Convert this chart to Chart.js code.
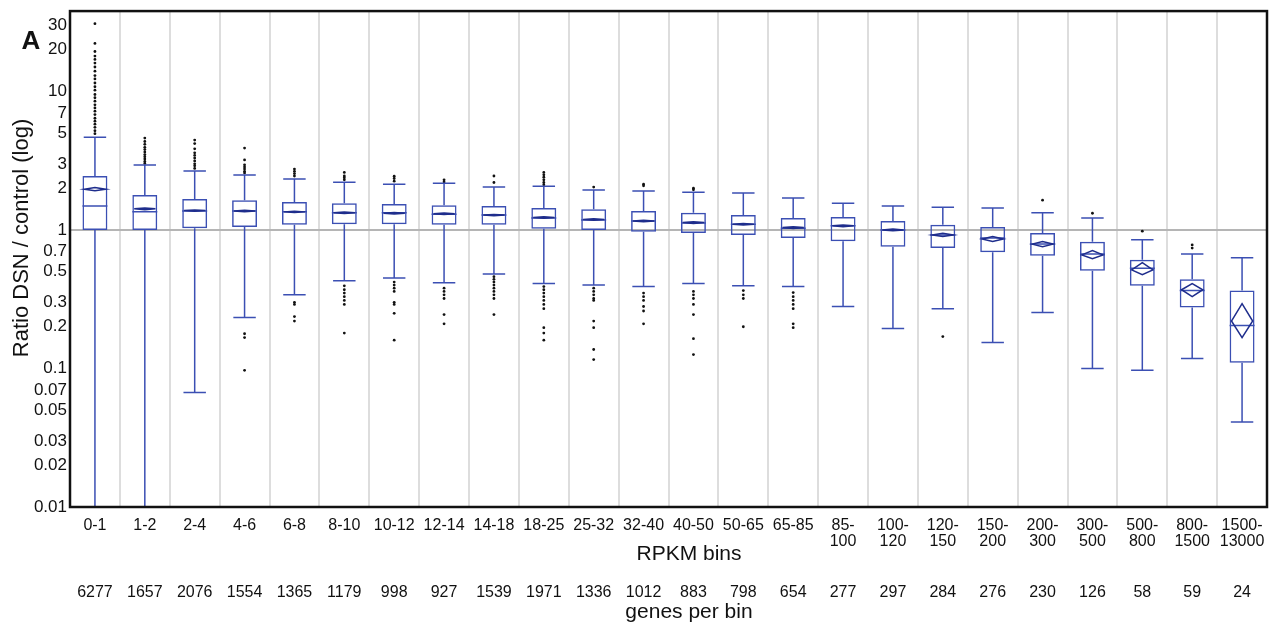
<!DOCTYPE html>
<html lang="en">
  <head>
    <meta charset="UTF-8" />
    <title>DSN / control ratio by RPKM bin</title>
    <script src="https://cdn.jsdelivr.net/npm/chart.js"></script>
    <style>
      html, body { margin: 0; padding: 0; background: #fff; }
      #wrap { width: 1278px; height: 630px; position: relative; }
    </style>
  </head>
  <body>
    <div id="wrap"><canvas id="boxChart" width="1278" height="630"></canvas></div>

  <script>
    // categories and counts
    var bins = ['0-1', '1-2', '2-4', '4-6', '6-8', '8-10', '10-12', '12-14', '14-18', '18-25', '25-32', '32-40',
      '40-50', '50-65', '65-85', ['85-', '100'], ['100-', '120'], ['120-', '150'], ['150-', '200'],
      ['200-', '300'], ['300-', '500'], ['500-', '800'], ['800-', '1500'], ['1500-', '13000']];
    var genesPerBin = ['6277', '1657', '2076', '1554', '1365', '1179', '998', '927', '1539', '1971', '1336', '1012',
      '883', '798', '654', '277', '297', '284', '276', '230', '126', '58', '59', '24'];

    // box statistics
    var whiskerLo = [0.005, 0.005, 0.067, 0.233, 0.34, 0.43, 0.45, 0.415, 0.48, 0.41, 0.40, 0.39,
      0.41, 0.395, 0.39, 0.28, 0.194, 0.27, 0.154, 0.253, 0.10, 0.097, 0.118, 0.041];
    var q1 = [1.0, 1.0, 1.03, 1.05, 1.09, 1.10, 1.10, 1.09, 1.09, 1.02, 1.0, 0.97,
      0.95, 0.92, 0.875, 0.83, 0.755, 0.74, 0.69, 0.65, 0.507, 0.395, 0.275, 0.11];
    var median = [1.49, 1.35, 1.37, 1.37, 1.35, 1.33, 1.33, 1.30, 1.28, 1.22, 1.18, 1.16,
      1.12, 1.10, 1.03, 1.07, 1.0, 0.92, 0.875, 0.79, 0.67, 0.53, 0.365, 0.204];
    var q3 = [2.45, 1.79, 1.67, 1.64, 1.59, 1.56, 1.54, 1.51, 1.49, 1.44, 1.41, 1.37,
      1.33, 1.28, 1.22, 1.24, 1.16, 1.09, 1.05, 0.95, 0.82, 0.61, 0.44, 0.365];
    var whiskerHi = [4.67, 2.94, 2.66, 2.49, 2.33, 2.21, 2.14, 2.17, 2.04, 2.07, 1.94, 1.91,
      1.87, 1.85, 1.70, 1.56, 1.49, 1.46, 1.44, 1.33, 1.22, 0.85, 0.67, 0.63];

    // means diamonds: mean and its confidence range
    var meanVal = [1.97, 1.42, 1.38, 1.37, 1.35, 1.33, 1.32, 1.31, 1.28, 1.23, 1.19, 1.16,
      1.13, 1.10, 1.04, 1.07, 1.0, 0.92, 0.86, 0.79, 0.66, 0.515, 0.37, 0.22];
    var meanLo = [1.92, 1.40, 1.365, 1.355, 1.335, 1.315, 1.305, 1.295, 1.265, 1.215, 1.175, 1.145,
      1.115, 1.085, 1.025, 1.055, 0.985, 0.895, 0.825, 0.755, 0.62, 0.476, 0.33, 0.167];
    var meanHi = [2.02, 1.44, 1.395, 1.385, 1.365, 1.345, 1.335, 1.325, 1.295, 1.245, 1.205, 1.175,
      1.145, 1.115, 1.055, 1.085, 1.015, 0.945, 0.895, 0.825, 0.71, 0.58, 0.41, 0.294];

    // outlying genes per bin
    var outliers = [
      [30.8, 22.2, 19.4, 18, 17, 16, 15, 14, 13, 12.3, 11.5, 10.8, 10.2, 9.5, 9, 8.5, 8, 7.6, 7.2, 6.8, 6.4, 6.1, 5.8, 5.5, 5.2, 4.95],
      [4.6, 4.35, 4.15, 3.95, 3.8, 3.65, 3.5, 3.38, 3.25, 3.12, 3.02],
      [4.45, 4.2, 3.85, 3.6, 3.45, 3.3, 3.15, 3.0, 2.9, 2.78],
      [3.9, 3.2, 2.95, 2.85, 2.75, 2.65, 2.58, 0.178, 0.167, 0.097],
      [2.75, 2.65, 2.55, 2.45, 0.30, 0.29, 0.237, 0.22],
      [2.6, 2.45, 2.38, 2.3, 0.395, 0.37, 0.35, 0.33, 0.31, 0.29, 0.18],
      [2.44, 2.35, 2.25, 0.42, 0.40, 0.38, 0.36, 0.30, 0.29, 0.25, 0.16],
      [2.3, 2.22, 0.38, 0.36, 0.34, 0.32, 0.245, 0.21],
      [2.45, 2.2, 0.46, 0.44, 0.42, 0.40, 0.38, 0.36, 0.34, 0.32, 0.245],
      [2.6, 2.5, 2.4, 2.3, 2.2, 2.12, 0.39, 0.37, 0.35, 0.33, 0.31, 0.29, 0.27, 0.197, 0.18, 0.16],
      [2.04, 0.38, 0.36, 0.34, 0.32, 0.31, 0.22, 0.197, 0.137, 0.116],
      [2.14, 2.08, 0.35, 0.33, 0.31, 0.28, 0.26, 0.21],
      [2.0, 1.95, 0.36, 0.34, 0.32, 0.29, 0.245, 0.164, 0.126],
      [0.365, 0.34, 0.32, 0.2],
      [0.353, 0.33, 0.31, 0.29, 0.27, 0.21, 0.197],
      [], [], [0.17], [], [1.64], [1.32], [0.98], [0.78, 0.74], []
    ];

    var yTicks = [0.01, 0.02, 0.03, 0.05, 0.07, 0.1, 0.2, 0.3, 0.5, 0.7, 1, 2, 3, 5, 7, 10, 20, 30];

    var boxBlue = '#3b4fb3';
    var diamondBlue = '#1e2d8c';
    var fontFam = '"Liberation Sans", Arial, Helvetica, sans-serif';

    // x is the category label itself so the category scale finds the right bin
    var outlierPoints = [];
    outliers.forEach(function (list, i) {
      list.forEach(function (v) {
        outlierPoints.push({ x: bins[i], y: v });
      });
    });

    // whiskers, medians, means diamonds, frame and titles
    var boxExtras = {
      id: 'boxExtras',
      afterDatasetsDraw: function (chart) {
        var ctx = chart.ctx;
        var xs = chart.scales.x, ys = chart.scales.y;
        var area = chart.chartArea;
        var meta = chart.getDatasetMeta(0);
        ctx.save();
        ctx.beginPath();
        ctx.rect(area.left, area.top, area.right - area.left, area.bottom - area.top);
        ctx.clip();
        for (var i = 0; i < bins.length; i++) {
          var cx = xs.getPixelForValue(i);
          var w = meta.data[i].width;
          var cap = w * 0.9;
          var yLo = ys.getPixelForValue(whiskerLo[i]);
          var yHi = ys.getPixelForValue(whiskerHi[i]);
          var yQ1 = ys.getPixelForValue(q1[i]);
          var yQ3 = ys.getPixelForValue(q3[i]);
          var yMed = ys.getPixelForValue(median[i]);

          ctx.strokeStyle = boxBlue;
          ctx.lineWidth = 1.5;
          ctx.beginPath();
          ctx.moveTo(cx, yQ3); ctx.lineTo(cx, yHi);
          ctx.moveTo(cx - cap / 2, yHi); ctx.lineTo(cx + cap / 2, yHi);
          ctx.moveTo(cx, yQ1); ctx.lineTo(cx, yLo);
          ctx.moveTo(cx - cap / 2, yLo); ctx.lineTo(cx + cap / 2, yLo);
          ctx.moveTo(cx - w / 2, yMed); ctx.lineTo(cx + w / 2, yMed);
          ctx.stroke();

          // means diamond
          var yM = ys.getPixelForValue(meanVal[i]);
          var yMl = ys.getPixelForValue(meanLo[i]);
          var yMh = ys.getPixelForValue(meanHi[i]);
          var dw = w * 0.85;
          ctx.strokeStyle = diamondBlue;
          ctx.lineWidth = 1.5;
          ctx.beginPath();
          ctx.moveTo(cx - dw / 2, yM);
          ctx.lineTo(cx, yMh);
          ctx.lineTo(cx + dw / 2, yM);
          ctx.lineTo(cx, yMl);
          ctx.closePath();
          ctx.stroke();
        }
        ctx.restore();
      },
      afterDraw: function (chart) {
        var ctx = chart.ctx;
        var area = chart.chartArea;
        ctx.save();
        ctx.strokeStyle = '#111';
        ctx.lineWidth = 2.5;
        ctx.strokeRect(area.left, area.top, area.right - area.left, area.bottom - area.top);

        ctx.fillStyle = '#111';
        ctx.textAlign = 'center';
        ctx.textBaseline = 'middle';
        ctx.font = 'bold 26px ' + fontFam;
        ctx.fillText('A', 31, 42);

        ctx.font = '21px ' + fontFam;
        ctx.fillText('RPKM bins', 689, 554);
        ctx.fillText('genes per bin', 689, 612);

        ctx.translate(22, 238);
        ctx.rotate(-Math.PI / 2);
        ctx.font = '22px ' + fontFam;
        ctx.fillText('Ratio DSN / control (log)', 0, 0);
        ctx.restore();
      }
    };

    var ctx = document.getElementById('boxChart').getContext('2d');
    var boxChart = new Chart(ctx, {
      type: 'bar',
      data: {
        labels: bins,
        datasets: [{
          type: 'bar',
          data: q1.map(function (v, i) { return [v, q3[i]]; }),
          backgroundColor: 'rgba(0,0,0,0)',
          borderColor: boxBlue,
          borderWidth: 1.5,
          borderSkipped: false,
          barPercentage: 0.5,
          categoryPercentage: 1.0,
          order: 2
        }, {
          type: 'scatter',
          data: outlierPoints,
          pointRadius: 1.4,
          pointBackgroundColor: '#111',
          pointBorderWidth: 0,
          showLine: false,
          order: 1
        }]
      },
      options: {
        responsive: false,
        animation: false,
        layout: { padding: { top: 0, right: 11, left: 0, bottom: 0 } },
        plugins: { legend: { display: false }, tooltip: { enabled: false } },
        scales: {
          x: {
            type: 'category',
            position: 'bottom',
            offset: true,
            grid: { display: true, offset: true, color: '#dddddd', lineWidth: 2, drawTicks: false },
            border: { display: false },
            ticks: {
              autoSkip: false, maxRotation: 0, padding: 10, color: '#111',
              font: { family: fontFam, size: 16, lineHeight: 1.02 }
            },
            afterFit: function (scale) { scale.height = 60; }
          },
          x2: {
            type: 'category',
            position: 'bottom',
            labels: genesPerBin,
            offset: true,
            grid: { display: false, drawTicks: false },
            border: { display: false },
            ticks: {
              autoSkip: false, maxRotation: 0, padding: 16, color: '#111',
              font: { family: fontFam, size: 16 }
            },
            afterFit: function (scale) { scale.height = 63; }
          },
          y: {
            type: 'logarithmic',
            min: 0.01,
            max: 38,
            afterBuildTicks: function (scale) {
              scale.ticks = yTicks.map(function (v) { return { value: v }; });
            },
            grid: {
              drawTicks: false,
              color: function (c) { return c.tick && c.tick.value === 1 ? '#b5b5b5' : 'rgba(0,0,0,0)'; },
              lineWidth: 2
            },
            border: { display: false },
            ticks: {
              padding: 3, color: '#111',
              font: { family: fontFam, size: 17, lineHeight: 0.95 },
              callback: function (v) { return String(v); }
            },
            afterFit: function (scale) { scale.width = 70; }
          }
        }
      },
      plugins: [boxExtras]
    });
  </script>
  </body>
</html>
